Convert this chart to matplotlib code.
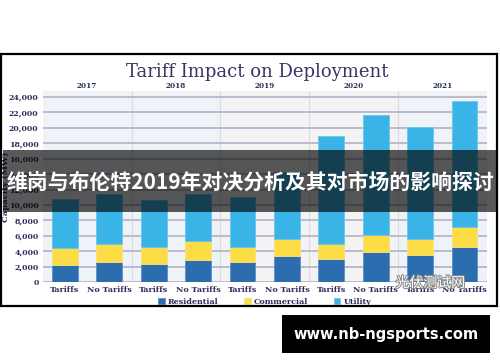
import matplotlib.pyplot as plt
import matplotlib.patheffects as pe
from matplotlib.patches import Rectangle

years = ["2017", "2018", "2019", "2020", "2021"]
scenarios = ["Tariffs", "No Tariffs"] * 5
residential = [2200, 2630, 2370, 2890, 2550, 3370, 2940, 3850, 3500, 4490]
commercial = [2240, 2290, 2120, 2380, 1980, 2160, 2020, 2280, 2110, 2670]
utility = [6350, 6440, 6170, 6130, 6470, 8680, 13990, 15500, 14470, 16380]
yticks = list(range(0, 24001, 2000))

navy = "#2f2b5c"
c_res = "#2c6db0"
c_com = "#fcdd45"
c_uti = "#3ab4e6"
panel_bg = ["#eef3f7", "#eef3f7", "#f3f3f4", "#f3f3f4", "#eef3f7"]

fig = plt.figure(figsize=(5, 3.62), dpi=100)
fig.patch.set_facecolor("white")

# outer frame
fig.patches.append(Rectangle((1 / 500, 1 - 306 / 362), 496 / 500, 252 / 362,
                             transform=fig.transFigure, fill=False,
                             edgecolor="black", linewidth=1.6))

ax = fig.add_axes([0.0854, 0.221, 0.888, 0.528])
x = list(range(len(scenarios)))

for i, c in enumerate(panel_bg):
    ax.axvspan(2 * i - 0.5, 2 * i + 1.5, color=c, zorder=0, lw=0)
for s in [1.5, 3.5, 5.5, 7.5]:
    ax.axvline(s, color="#dcdcdf", lw=0.9, zorder=1)
for t in yticks:
    ax.axhline(t, color="#b9b6cb", lw=1.3, zorder=1)

bot2 = [r + c for r, c in zip(residential, commercial)]
w = 0.585
ax.bar(x, residential, w, color=c_res, label="Residential", zorder=3,
       edgecolor="#5b8fc7", linewidth=0.6)
ax.bar(x, commercial, w, bottom=residential, color=c_com, label="Commercial",
       zorder=3, edgecolor="#f5e27e", linewidth=0.6)
ax.bar(x, utility, w, bottom=bot2, color=c_uti, label="Utility", zorder=3,
       edgecolor="#6cc6ec", linewidth=0.6)

ax.set_xlim(-0.5, 9.5)
ax.set_ylim(0, 24800)
ax.set_yticks(yticks)
ax.set_yticklabels([f"{t:,}" if t else "0" for t in yticks],
                   fontfamily="DejaVu Serif", fontweight="bold", fontsize=5.6,
                   color=navy)
ax.set_xticks(x)
ax.set_xticklabels(scenarios, fontfamily="DejaVu Serif", fontweight="bold",
                   fontsize=5.8, color=navy)
ax.tick_params(length=0, pad=3)
for sp in ax.spines.values():
    sp.set_visible(False)

for i, yr in enumerate(years):
    ax.text(2 * i + 0.5, 1.005, yr, transform=ax.get_xaxis_transform(),
            ha="center", va="bottom", fontfamily="DejaVu Serif",
            fontweight="bold", fontsize=5.2, color=navy)

ax.set_ylabel("Capacity (MW)", fontfamily="DejaVu Serif", fontweight="bold",
              fontsize=6, color=navy)
ax.yaxis.set_label_coords(-0.074, 0.5)

fig.text(0.515, 1 - 72 / 362, "Tariff Impact on Deployment",
         ha="center", va="center", fontfamily="DejaVu Serif", fontsize=13,
         color="#3a3466")

leg = ax.legend(loc="upper center", bbox_to_anchor=(0.5, -0.045), ncol=3,
                frameon=False, handlelength=0.8, handleheight=0.8,
                handletextpad=0.4, columnspacing=3.2,
                prop={"family": "DejaVu Serif", "weight": "bold", "size": 5.8})
for t in leg.get_texts():
    t.set_color(navy)

# watermark
fig.text(0.93, 1 - 283 / 362, "光伏测试网", ha="right", va="center",
         fontfamily="Noto Sans CJK SC", fontsize=10, color="white",
         path_effects=[pe.withStroke(linewidth=1.5, foreground="#8a8a8a")])

# dark banner with title
fig.patches.append(Rectangle((3 / 500, 1 - 212 / 362), 494 / 500, 62 / 362,
                             transform=fig.transFigure, facecolor="black",
                             alpha=0.65, edgecolor="none", zorder=10))
fig.text(0.5, 1 - 182 / 362, "维岗与布伦特2019年对决分析及其对市场的影响探讨",
         ha="center", va="center", fontfamily=["Noto Sans CJK SC", "DejaVu Sans"],
         fontweight="bold", fontsize=15, color="white", zorder=11)

# site box
fig.patches.append(Rectangle((282 / 500, 1 - 353 / 362), 208 / 500, 38 / 362,
                             transform=fig.transFigure, facecolor="black",
                             edgecolor="none", zorder=10))
fig.text(386 / 500, 1 - 334 / 362, "www.nb-ngsports.com", ha="center",
         va="center", fontfamily="DejaVu Sans", fontweight="bold", fontsize=10.5,
         color="white", zorder=11)

fig.savefig("out.png", dpi=100)
